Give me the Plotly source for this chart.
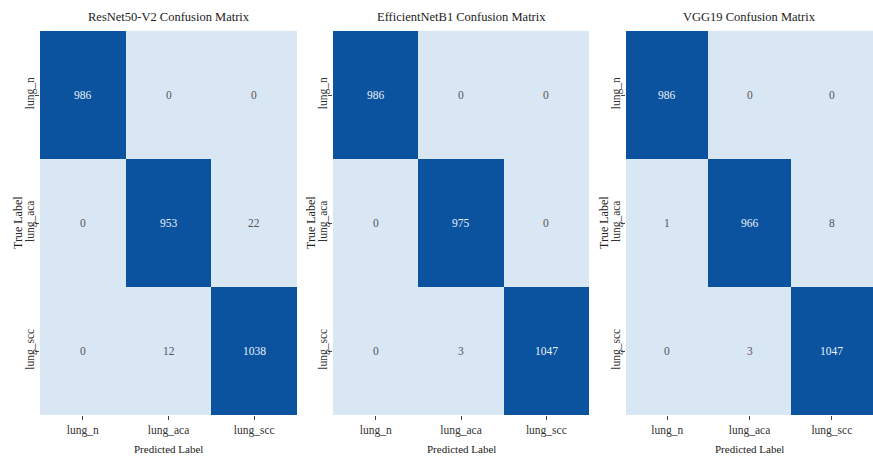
import plotly.graph_objects as go

labels = ["lung_n", "lung_aca", "lung_scc"]
model_titles = ["ResNet50-V2 Confusion Matrix", "EfficientNetB1 Confusion Matrix", "VGG19 Confusion Matrix"]
resnet_cm = [[986, 0, 0], [0, 953, 22], [0, 12, 1038]]
effnet_cm = [[986, 0, 0], [0, 975, 0], [0, 3, 1047]]
vgg_cm = [[986, 0, 0], [1, 966, 8], [0, 3, 1047]]
matrices = [resnet_cm, effnet_cm, vgg_cm]

W, H = 873, 462
panels_px = [(40, 297), (333, 589), (626, 873)]
top_px, bot_px = 31, 415
LIGHT = "#d9e7f5"
DARK = "#0b539f"
FONT = "Liberation Serif"

fig = go.Figure()
annotations = []
zmax = max(max(max(r) for r in m) for m in matrices)
for i, (cm, title) in enumerate(zip(matrices, model_titles)):
    n = i + 1
    xa = "x" if n == 1 else f"x{n}"
    ya = "y" if n == 1 else f"y{n}"
    fig.add_trace(go.Heatmap(
        z=cm, x=labels, y=labels, xaxis=xa, yaxis=ya,
        zmin=0, zmax=zmax,
        colorscale=[[0, LIGHT], [0.5, LIGHT], [0.5, DARK], [1, DARK]],
        showscale=False, xgap=0, ygap=0, hoverinfo="z",
    ))
    x0, x1 = panels_px[i]
    dom = [x0 / W, x1 / W]
    ydom = [(H - bot_px) / H, (H - top_px) / H]
    fig.layout[f"xaxis{'' if n == 1 else n}"] = dict(
        domain=dom, anchor=ya, type="category", ticks="outside", ticklen=4,
        tickcolor="#444", showgrid=False, zeroline=False, showline=False,
        tickfont=dict(family=FONT, size=11.5, color="#333"),
    )
    fig.layout[f"yaxis{'' if n == 1 else n}"] = dict(
        domain=ydom, anchor=xa, type="category", autorange="reversed",
        ticks="outside", ticklen=4, tickcolor="#444", tickangle=-90,
        ticklabelstandoff=-4,
        showgrid=False, zeroline=False, showline=False,
        tickfont=dict(family=FONT, size=11.5, color="#333"),
    )
    cx = (dom[0] + dom[1]) / 2
    annotations.append(dict(text=title, x=cx, y=(H - 17) / H, xanchor="center", yanchor="middle",
                            xref="paper", yref="paper", showarrow=False,
                            font=dict(family=FONT, size=12.5, color="#222")))
    annotations.append(dict(text="Predicted Label", x=cx, y=(H - 449) / H, xanchor="center",
                            yanchor="middle", xref="paper", yref="paper", showarrow=False,
                            font=dict(family=FONT, size=11, color="#222")))
    annotations.append(dict(text="True Label", x=(x0 - 22) / W, y=(H - 223) / H,
                            xanchor="center", yanchor="middle",
                            xref="paper", yref="paper", showarrow=False, textangle=-90,
                            font=dict(family=FONT, size=12, color="#222")))
    for r, row in enumerate(cm):
        for c, v in enumerate(row):
            annotations.append(dict(
                text=str(v), x=labels[c], y=labels[r], xref=xa, yref=ya,
                showarrow=False,
                font=dict(family=FONT, size=11.5,
                          color="#e8f0fa" if v > zmax / 2 else "#555"),
            ))

fig.update_layout(
    width=W, height=H, margin=dict(l=0, r=0, t=0, b=0),
    paper_bgcolor="white", plot_bgcolor="white",
    annotations=annotations,
)
fig.write_html("out.html", config={"displayModeBar": False},
               post_script="document.body.style.margin='0';")
